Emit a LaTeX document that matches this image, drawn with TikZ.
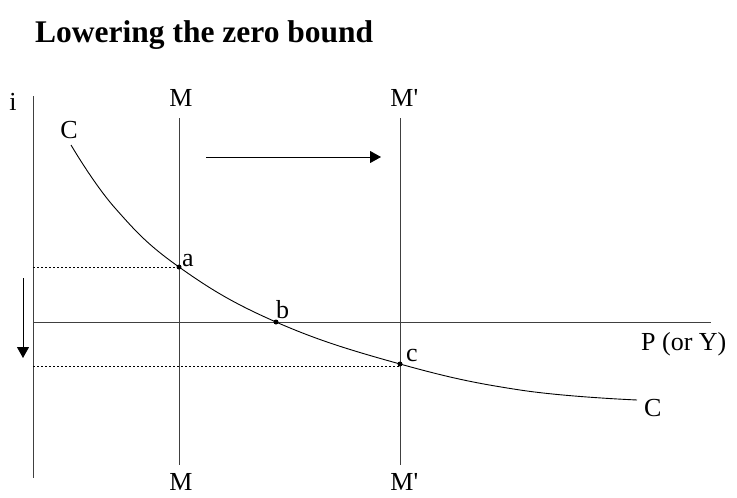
\documentclass[tikz,border=0pt]{standalone}
\usepackage{fontspec}
\setmainfont{Liberation Serif}
\usetikzlibrary{arrows.meta}
\begin{document}
\begin{tikzpicture}[x=1pt,y=-1pt,
  axis/.style={draw=black!75,line width=0.9pt},
  curve/.style={draw=black,line width=0.9pt},
  guide/.style={draw=black,line width=0.7pt,dash pattern=on 2pt off 2pt},
  lbl/.style={font=\fontsize{26}{30}\selectfont,inner sep=0pt,anchor=base},
  pt/.style={circle,fill=black,inner sep=0pt,minimum size=5pt},
  movearrow/.style={draw=black,line width=0.9pt,-{Triangle[length=11pt,width=12pt]}}]
\useasboundingbox (0,0) rectangle (737,498);
% title
\node[font=\fontsize{31.5}{36}\selectfont\bfseries,inner sep=0pt,anchor=base west] (title) at (35,42) {Lowering the zero bound};
% axes
\coordinate (ytop) at (33,96);
\coordinate (ybot) at (33,478);
\coordinate (xl) at (33,322);
\coordinate (xr) at (711,322);
\draw[axis] (ytop) -- (ybot);
\draw[axis] (xl) -- (xr);
\node[lbl] (ilbl) at (13,110) {i};
\node[lbl,anchor=base west] (plbl) at (641,350) {P (or Y)};
% M lines
\coordinate (Mt) at (179,118);
\coordinate (Mb) at (179,465);
\coordinate (Mpt) at (400,118);
\coordinate (Mpb) at (400,465);
\draw[axis] (Mt) -- (Mb);
\draw[axis] (Mpt) -- (Mpb);
\node[lbl] (Mtop) at (181,106) {M};
\node[lbl] (Mbot) at (181,490) {M};
\node[lbl] (Mptop) at (402,106) {M\rlap{\textquotesingle}};
\node[lbl] (Mpbot) at (402,490) {M\rlap{\textquotesingle}};
% points
\node[pt] (a) at (179,267) {};
\node[pt] (b) at (276,322) {};
\node[pt] (c) at (400,364) {};
\node[lbl,anchor=base west] (alab) at (182,266) {a};
\node[lbl,anchor=base west] (blab) at (276,318) {b};
\node[lbl,anchor=base west] (clab) at (406,361) {c};
% dotted guides
\coordinate (ga) at (33,267);
\coordinate (gc) at (33,366);
\coordinate (gcr) at (400,366);
\draw[guide] (ga) -- (a.center);
\draw[guide] (gc) -- (gcr);
% curve
\draw[curve] plot[smooth,tension=0.7] coordinates {(71,145) (115,208) (179,267) (276,322) (400,364) (520,390) (637,400)};
\node[lbl] (Ctop) at (69,138) {C};
\node[lbl,anchor=base west] (Cbot) at (644,416) {C};
% arrows
\coordinate (ars) at (206,157);
\coordinate (are) at (381,157);
\draw[movearrow] (ars) -- (are);
\coordinate (ds) at (23,278);
\coordinate (de) at (23,358);
\draw[movearrow] (ds) -- (de);
\end{tikzpicture}
\end{document}
